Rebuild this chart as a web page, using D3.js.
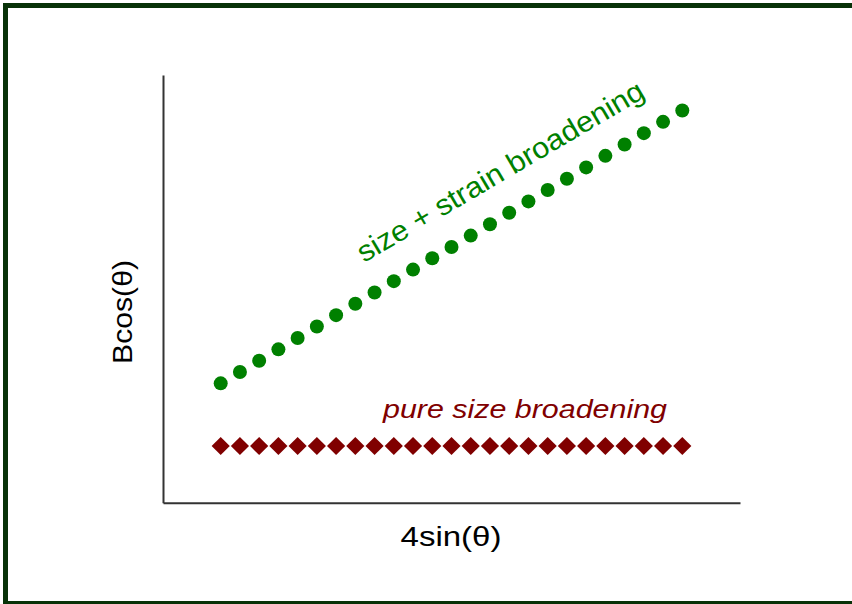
<!DOCTYPE html>
<html lang="en">
<head>
  <meta charset="UTF-8" />
  <title>size and strain broadening</title>
  <script src="https://d3js.org/d3.v7.min.js"></script>
  <style>
    body { margin: 0; background: #fff; }
    text { font-family: Arial, "Liberation Sans", sans-serif; }
  </style>
</head>
<body>
<script type="text/javascript">

// x positions (4sin theta, arbitrary units)
var xVals = [3, 4, 5, 6, 7, 8, 9, 10, 11, 12, 13, 14, 15, 16, 17, 18, 19, 20, 21, 22, 23, 24, 25, 26, 27];

// size + strain broadening (Bcos theta)
var strainVals = [5.58, 6.11, 6.64, 7.17, 7.70, 8.24, 8.77, 9.30, 9.83, 10.36, 10.90, 11.43, 11.96,
                  12.49, 13.02, 13.56, 14.09, 14.62, 15.15, 15.68, 16.22, 16.75, 17.28, 17.81, 18.34];

// pure size broadening (Bcos theta)
var sizeVals = [2.65, 2.65, 2.65, 2.65, 2.65, 2.65, 2.65, 2.65, 2.65, 2.65, 2.65, 2.65, 2.65,
                2.65, 2.65, 2.65, 2.65, 2.65, 2.65, 2.65, 2.65, 2.65, 2.65, 2.65, 2.65];

var width = 852, height = 604;

var svg = d3.select("body")
  .append("svg")
  .attr("width", width)
  .attr("height", height);

// outer frame
svg.append("rect")
  .attr("x", 5.5)
  .attr("y", 5.5)
  .attr("width", 900)
  .attr("height", 598)
  .attr("fill", "none")
  .attr("stroke", "#083208")
  .attr("stroke-width", 5);

var x = d3.scaleLinear().domain([0, 30]).range([163, 740]);
var y = d3.scaleLinear().domain([0, 20]).range([502.7, 75]);

// axes, no ticks
svg.append("g")
  .attr("transform", "translate(0," + y(0) + ")")
  .call(d3.axisBottom(x).ticks(0).tickSizeOuter(0))
  .select(".domain")
  .attr("stroke", "#333")
  .attr("stroke-width", 2);

svg.append("g")
  .attr("transform", "translate(" + x(0) + ",0)")
  .call(d3.axisLeft(y).ticks(0).tickSizeOuter(0))
  .select(".domain")
  .attr("stroke", "#333")
  .attr("stroke-width", 2);

// pure size points (diamonds)
var diamond = d3.symbol().type(d3.symbolSquare).size(165);
svg.append("g")
  .selectAll("path")
  .data(xVals)
  .enter().append("path")
  .attr("d", diamond)
  .attr("fill", "#800000")
  .attr("transform", function(d, i) {
    return "translate(" + x(d) + "," + y(sizeVals[i]) + ") rotate(45)";
  });

// size + strain points
svg.append("g")
  .selectAll("circle")
  .data(xVals)
  .enter().append("circle")
  .attr("cx", function(d) { return x(d); })
  .attr("cy", function(d, i) { return y(strainVals[i]); })
  .attr("r", 7)
  .attr("fill", "#008000");

// labels
svg.append("text")
  .attr("x", 383)
  .attr("y", 418)
  .attr("font-size", 26)
  .attr("font-style", "italic")
  .attr("fill", "#800000")
  .attr("textLength", 284)
  .attr("lengthAdjust", "spacingAndGlyphs")
  .text("pure size broadening");

svg.append("text")
  .attr("transform", "translate(364,263) rotate(-30.5)")
  .attr("font-size", 29)
  .attr("fill", "#008000")
  .attr("textLength", 328)
  .attr("lengthAdjust", "spacingAndGlyphs")
  .text("size + strain broadening");

svg.append("text")
  .attr("x", 451)
  .attr("y", 546)
  .attr("text-anchor", "middle")
  .attr("font-size", 28)
  .attr("fill", "#000")
  .attr("textLength", 101)
  .attr("lengthAdjust", "spacingAndGlyphs")
  .text("4sin(\u03b8)");

svg.append("text")
  .attr("transform", "translate(132,312) rotate(-90)")
  .attr("text-anchor", "middle")
  .attr("font-size", 28)
  .attr("fill", "#000")
  .attr("textLength", 104)
  .attr("lengthAdjust", "spacingAndGlyphs")
  .text("Bcos(\u03b8)");

</script>
</body>
</html>
